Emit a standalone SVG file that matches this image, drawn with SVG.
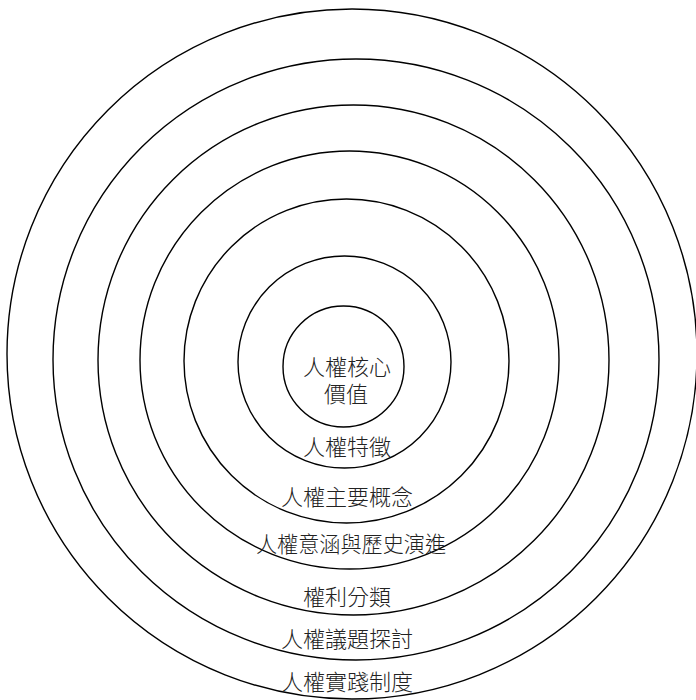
<svg xmlns="http://www.w3.org/2000/svg" width="696" height="700" viewBox="0 0 696 700">
<style>
.ring{fill:none;stroke:#000;stroke-width:1.4}
.lbl{font-family:"Noto Sans CJK TC","Noto Sans CJK SC",sans-serif;font-size:22px;font-weight:300;fill:#222;text-anchor:middle;dominant-baseline:central}
</style>
<rect width="696" height="700" fill="#fff"/>
<g id="ring1">
<ellipse class="ring" cx="352" cy="354" rx="345" ry="345"/>
<text class="lbl" x="347" y="680">人權實踐制度</text>
</g>
<g id="ring2">
<ellipse class="ring" cx="356" cy="359.5" rx="303" ry="300.5"/>
<text class="lbl" x="347" y="637">人權議題探討</text>
</g>
<g id="ring3">
<ellipse class="ring" cx="353.5" cy="360" rx="255.5" ry="255"/>
<text class="lbl" x="347" y="595">權利分類</text>
</g>
<g id="ring4">
<ellipse class="ring" cx="349.5" cy="360" rx="209.5" ry="209"/>
<text class="lbl" x="351" y="542" textLength="190" lengthAdjust="spacingAndGlyphs">人權意涵與歷史演進</text>
</g>
<g id="ring5">
<ellipse class="ring" cx="346.5" cy="361" rx="162.5" ry="162"/>
<text class="lbl" x="347" y="495">人權主要概念</text>
</g>
<g id="ring6">
<ellipse class="ring" cx="344.5" cy="362" rx="106.5" ry="106"/>
<text class="lbl" x="347" y="445">人權特徵</text>
</g>
<g id="core">
<ellipse class="ring" cx="343.5" cy="366.5" rx="60.5" ry="60.5"/>
<text class="lbl" x="347" y="365">人權核心</text>
<text class="lbl" x="346" y="392">價值</text>
</g>
</svg>
